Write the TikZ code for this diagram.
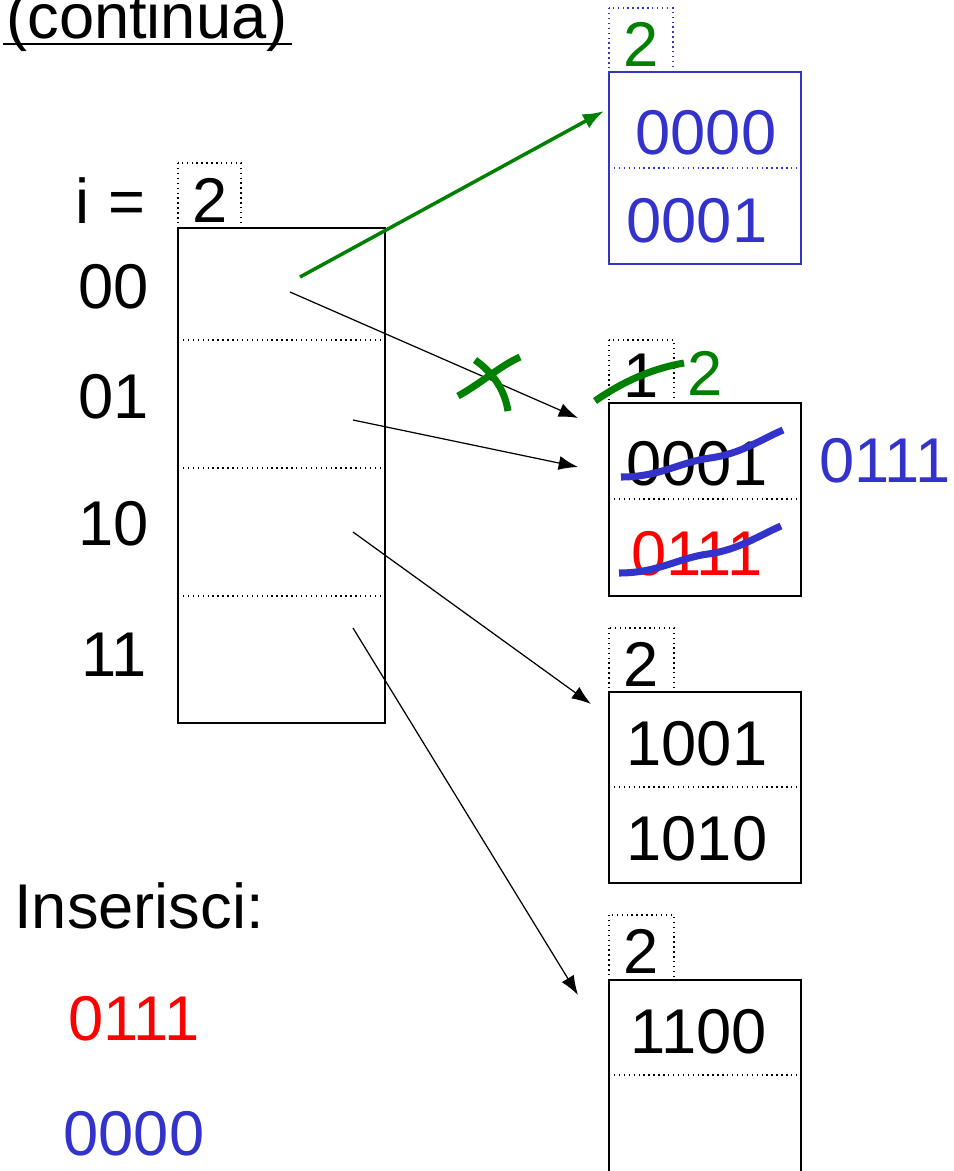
\documentclass[tikz,border=0pt]{standalone}
\usepackage{fontspec}
\setmainfont{Liberation Sans}
\usetikzlibrary{arrows.meta}
\definecolor{inkblue}{RGB}{51,51,204}
\definecolor{inkgreen}{RGB}{0,128,0}
\tikzset{
  big/.style={font=\fontsize{36}{38}\selectfont, inner sep=0pt},
  lbl/.style={big, anchor=base},
  hdrbox/.style={dotted, line width=0.8pt},
  ptr/.style={-{Latex[length=11pt,width=8pt]}, line width=0.7pt},
  pen/.style={line width=4pt, line cap=round}
}
\begin{document}
\begin{tikzpicture}[x=0.02cm, y=-0.02cm]
    \useasboundingbox (0,0) rectangle (954,1171);

    % title
    \node[lbl, anchor=base west] (ttl) at (6,38) {(continua)};
    \draw[line width=1.6pt] (3,44) -- (292,44);

    % directory
    \node[lbl, anchor=base east] (ieq) at (146,223) {i\hspace{0.3em}=};
    \draw[hdrbox] (178,163) rectangle (241,228);
    \node[lbl] (gdepth) at (210,222) {2};
    \draw[line width=1.1pt] (178,228) rectangle (385,723);
    \draw[dotted, line width=0.8pt] (178,340) -- (385,340);
    \draw[dotted, line width=0.8pt] (178,468) -- (385,468);
    \draw[dotted, line width=0.8pt] (178,596) -- (385,596);
    \node[lbl] (d00) at (114,308) {00};
    \node[lbl] (d01) at (114,418) {01};
    \node[lbl] (d10) at (114,545) {10};
    \node[lbl] (d11) at (114,676) {11};

    % bucket 0000/0001 (blue)
    \draw[hdrbox, inkblue] (609,8) rectangle (673,72);
    \node[lbl, inkgreen] (ldA) at (641,66) {2};
    \draw[inkblue, line width=1.1pt] (609,72) rectangle (801,264);
    \draw[inkblue, dotted, line width=0.8pt] (609,168) -- (801,168);
    \node[lbl, inkblue] (kA1) at (706,154) {0000};
    \node[lbl, inkblue] (kA2) at (697,242) {0001};

    % bucket 0001/0111
    \draw[hdrbox] (609,340) rectangle (674,403);
    \node[lbl] (ldB) at (641,397) {1};
    \node[lbl, inkgreen] (ldBnew) at (705,395) {2};
    \draw[line width=1.1pt] (609,403) rectangle (801,596);
    \draw[dotted, line width=0.8pt] (609,499) -- (801,499);
    \node[lbl] (kB1) at (697,485) {0001};
    \node[lbl, red] (kB2) at (697,575) {0111};
    \node[lbl, inkblue] (kBnew) at (885,482) {0111};

    % bucket 1001/1010
    \draw[hdrbox] (609,628) rectangle (674,692);
    \node[lbl] (ldC) at (641,686) {2};
    \draw[line width=1.1pt] (609,692) rectangle (801,883);
    \draw[dotted, line width=0.8pt] (609,787) -- (801,787);
    \node[lbl] (kC1) at (697,765) {1001};
    \node[lbl] (kC2) at (697,860) {1010};

    % bucket 1100
    \draw[hdrbox] (609,915) rectangle (674,980);
    \node[lbl] (ldD) at (641,973) {2};
    \draw[line width=1.1pt] (609,1190) -- (609,980) -- (801,980) -- (801,1190);
    \draw[dotted, line width=0.8pt] (609,1075) -- (801,1075);
    \node[lbl] (kD1) at (699,1053) {1100};

    % keys to insert
    \node[lbl, anchor=base west] (ins) at (14,928) {Inserisci:};
    \node[lbl, red] (ins1) at (134,1040) {0111};
    \node[lbl, inkblue] (ins2) at (134,1155) {0000};

    % pointers
    \coordinate (s00new) at (300,277);
    \coordinate (s00) at (290,292);
    \coordinate (s01) at (353,420);
    \coordinate (s10) at (353,532);
    \coordinate (s11) at (353,628);
    \coordinate (tA) at (604,111);
    \coordinate (tB1) at (578,418);
    \coordinate (tB2) at (578,467);
    \coordinate (tC) at (591,704);
    \coordinate (tD) at (578,995);
    \draw[-{Latex[length=12pt,width=9pt]}, inkgreen, line width=2pt] (s00new) -- (tA);
    \draw[ptr] (s00) -- (tB1);
    \draw[ptr] (s01) -- (tB2);
    \draw[ptr] (s10) -- (tC);
    \draw[ptr] (s11) -- (tD);

    % corrections
    \draw[pen, inkgreen, line cap=butt] (458,396) .. controls (480,384) and (500,366) .. (520,357);
    \draw[pen, inkgreen, line cap=butt] (475,360) .. controls (495,374) and (505,392) .. (508,411);
    \draw[pen, inkgreen, line cap=butt] (595,401) .. controls (625,380) and (655,368) .. (684,363);
    \draw[pen, inkblue, line cap=butt] (621,477) .. controls (660,477) and (680,462) .. (710,458)
        .. controls (740,454) and (760,440) .. (783,430);
    \draw[pen, inkblue, line cap=butt] (619,573) .. controls (658,573) and (678,558) .. (708,554)
        .. controls (738,550) and (758,536) .. (781,526);
\end{tikzpicture}
\end{document}
